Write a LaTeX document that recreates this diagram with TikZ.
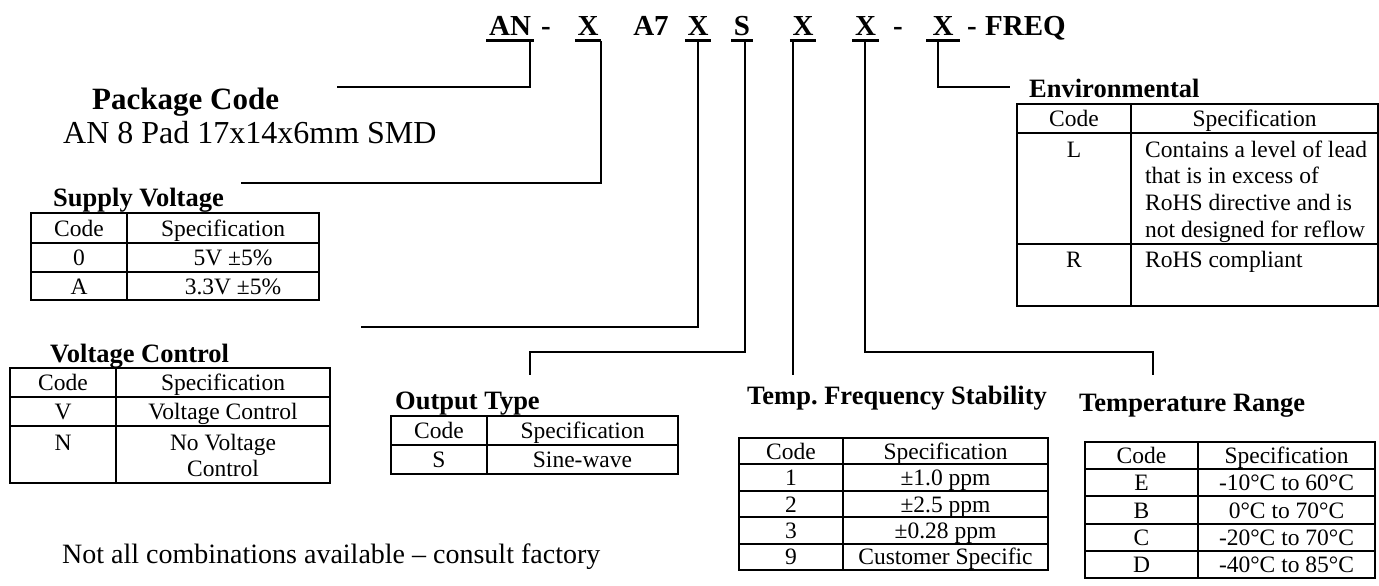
\documentclass[tikz,border=0pt]{standalone}
\usepackage{fontspec}
\setmainfont{Liberation Serif}
\usetikzlibrary{positioning}
\tikzset{
  hd/.style={font=\fontsize{29}{32}\selectfont\bfseries, inner sep=0pt, anchor=base},
  hdu/.style={hd, inner xsep=2.5pt},
  uln/.style={line width=3pt},
  lnk/.style={line width=1.8pt},
  ttl/.style={font=\fontsize{26.5}{30}\selectfont\bfseries, inner sep=0pt, anchor=base west},
  cell/.style={font=\fontsize{23.5}{26.7}\selectfont, inner sep=0pt, anchor=base},
  tblr/.style={line width=2pt},
  txt/.style={inner sep=0pt, anchor=base west},
}
\begin{document}
\begin{tikzpicture}[x=1pt, y=-1pt]
  \useasboundingbox (0,0) rectangle (1379,586);
  % part number
  \node[hdu] (hAN) at (510,36) {AN};
  \node[hd] (hd1) at (546,36) {-};
  \node[hdu] (hX1) at (588,36) {X};
  \node[hd] (hA7) at (651,36) {A7};
  \node[hdu] (hX2) at (698,36) {X};
  \node[hdu] (hS) at (742,36) {S};
  \node[hdu] (hX3) at (803,36) {X};
  \node[hdu] (hX4) at (865.5,36) {X};
  \node[hd] (hd2) at (898,36) {-};
  \node[hdu, inner xsep=6pt] (hX5) at (943,36) {X};
  \node[hd] (hd3) at (972,36) {-};
  \node[hd, anchor=base west] (hFQ) at (985,36) {FREQ};
  \foreach \n in {hAN,hX1,hX2,hS,hX3,hX4,hX5}
    \draw[uln] ([yshift=-5pt]\n.base west) -- ([yshift=-5pt]\n.base east);
  % connector ends
  \coordinate (pAN) at (530,41);  \coordinate (ePkg) at (337,87);
  \coordinate (pX1) at (601,41);  \coordinate (eSup) at (241,183);
  \coordinate (pX2) at (698,41);  \coordinate (eVc) at (361,327);
  \coordinate (pS) at (745,41);   \coordinate (kOut) at (530,352); \coordinate (eOut) at (530,375);
  \coordinate (pX3) at (793,41);  \coordinate (eStab) at (793,375);
  \coordinate (pX4) at (865,41);  \coordinate (kRng) at (1153,352); \coordinate (eRng) at (1153,375);
  \coordinate (pX5) at (938,41);  \coordinate (eEnv) at (1010,87);
  \draw[lnk] (pAN) |- (ePkg);
  \draw[lnk] (pX1) |- (eSup);
  \draw[lnk] (pX2) |- (eVc);
  \draw[lnk] (pS) |- (kOut) -- (eOut);
  \draw[lnk] (pX3) -- (eStab);
  \draw[lnk] (pX4) |- (kRng) -- (eRng);
  \draw[lnk] (pX5) |- (eEnv);

  % package code
  \node[ttl, font=\fontsize{31}{34}\selectfont\bfseries] (tPkg) at (92,109) {Package Code};
  \node[txt, font=\fontsize{32}{36}\selectfont] (dPkg) at (63,143) {AN 8 Pad 17x14x6mm SMD};

  % supply voltage
  \node[ttl] (tSup) at (53,206) {Supply Voltage};
  \draw[tblr] (31,213) rectangle (319,300) (127,213) -- (127,300);
  \foreach \y in {243,272} \draw[tblr] (31,\y) -- (319,\y);
  \node[cell] (svc1) at (79,236) {Code};
  \node[cell] (svs1) at (223,236) {Specification};
  \foreach \c/\s/\y [count=\i from 2] in {0/5V ±5\%/265.5, A/3.3V ±5\%/294}{
    \node[cell] (svc\i) at (79,\y) {\c};
    \node[cell] (svs\i) at (233,\y) {\s};
  }

  % voltage control
  \node[ttl] (tVc) at (50,362) {Voltage Control};
  \draw[tblr] (10,368) rectangle (330,483) (116,368) -- (116,483);
  \foreach \y in {397,426} \draw[tblr] (10,\y) -- (330,\y);
  \foreach \c/\s/\y [count=\i] in {Code/Specification/390.5, V/Voltage Control/419.5, N/No Voltage/450}{
    \node[cell] (vcc\i) at (63,\y) {\c};
    \node[cell] (vcs\i) at (223,\y) {\s};
  }
  \node[cell] (vcs4) at (223,476.5) {Control};

  % output type
  \node[ttl] (tOut) at (395,409) {Output Type};
  \draw[tblr] (391,416) rectangle (678,474) (487,416) -- (487,474) (391,445) -- (678,445);
  \node[cell] (otc1) at (439,438.5) {Code};
  \node[cell] (ots1) at (582.5,438.5) {Specification};
  \node[cell] (otc2) at (439,467.5) {S};
  \node[cell] (ots2) at (582.5,467.5) {Sine-wave};

  % temp. frequency stability
  \node[ttl] (tStab) at (747,404) {Temp.\ Frequency Stability};
  \draw[tblr] (739,438) rectangle (1048,570) (843,438) -- (843,570);
  \foreach \k in {1,...,4} \draw[tblr] (739,438+26.4*\k) -- (1048,438+26.4*\k);
  \foreach \c/\s [count=\i] in {Code/Specification, 1/±1.0 ppm, 2/±2.5 ppm, 3/±0.28 ppm, 9/Customer Specific}{
    \node[cell] (fsc\i) at (791,446+26.4*\i-13.2) {\c};
    \node[cell] (fss\i) at (945.5,446+26.4*\i-13.2) {\s};
  }

  % temperature range
  \node[ttl] (tRng) at (1079,411) {Temperature Range};
  \draw[tblr] (1085,442) rectangle (1375,578) (1198,442) -- (1198,578);
  \foreach \k in {1,...,4} \draw[tblr] (1085,442+27.2*\k) -- (1375,442+27.2*\k);
  \foreach \c/\s [count=\i] in {Code/Specification, E/-10°C to 60°C, B/0°C to 70°C, C/-20°C to 70°C, D/-40°C to 85°C}{
    \node[cell] (trc\i) at (1141.5,450+27.2*\i-13.6) {\c};
    \node[cell] (trs\i) at (1286.5,450+27.2*\i-13.6) {\s};
  }

  % environmental
  \node[ttl] (tEnv) at (1029,97) {Environmental};
  \draw[tblr] (1017,104) rectangle (1378,306) (1131,104) -- (1131,306);
  \foreach \y in {133,244} \draw[tblr] (1017,\y) -- (1378,\y);
  \node[cell] (evc1) at (1074,126.5) {Code};
  \node[cell] (evs1) at (1254.5,126.5) {Specification};
  \node[cell] (evc2) at (1074,157) {L};
  \node[cell] (evc3) at (1074,267) {R};
  \foreach \t [count=\i] in {Contains a level of lead, that is in excess of, RoHS directive and is, not designed for reflow}
    \node[cell, anchor=base west] (evl\i) at (1145,130.3+26.7*\i) {\t};
  \node[cell, anchor=base west] (evr) at (1145,267) {RoHS compliant};

  % note
  \node[txt, font=\fontsize{28}{32}\selectfont] (note) at (62,563) {Not all combinations available – consult factory};
\end{tikzpicture}
\end{document}
